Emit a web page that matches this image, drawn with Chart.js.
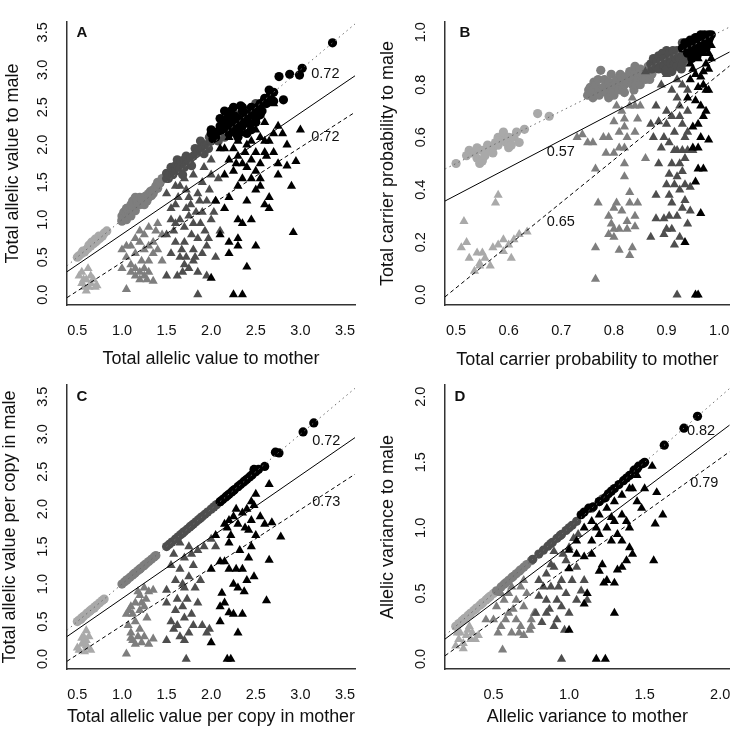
<!DOCTYPE html>
<html>
<head>
<meta charset="utf-8">
<script src="https://cdn.jsdelivr.net/npm/chart.js@4.4.1/dist/chart.umd.min.js"></script>
<style>
  html, body { margin: 0; padding: 0; background: #fff; }
  #wrap { position: relative; width: 735px; height: 735px; overflow: hidden; }
  canvas { position: absolute; }
</style>
</head>
<body>
<div id="wrap">
  <canvas id="chartA" width="367" height="376" style="left:0;top:0"></canvas>
  <canvas id="chartB" width="368" height="376" style="left:367px;top:0"></canvas>
  <canvas id="chartC" width="367" height="368" style="left:0;top:367px"></canvas>
  <canvas id="chartD" width="368" height="368" style="left:367px;top:367px"></canvas>
</div>
<script>
// ---- Panel A: total allelic value ----
var aLightCirc = [[0.5,0.5],[0.52,0.52],[0.55,0.55],[0.56,0.58],[0.58,0.57],[0.6,0.6],[0.62,0.62],[0.63,0.66],[0.65,0.65],[0.66,0.7],[0.68,0.68],[0.7,0.7],[0.7,0.74],[0.72,0.72],[0.74,0.78],[0.75,0.75],[0.78,0.78],[0.8,0.82],[0.83,0.85]];
var aGrayCirc = [[1.0,1.0],[1.0,1.05],[1.0,0.98],[1.02,1.1],[1.02,1.02],[1.05,1.15],[1.05,1.0],[1.05,1.08],[1.07,1.12],[1.08,1.08],[1.1,1.2],[1.1,1.1],[1.1,1.05],[1.12,1.25],[1.12,1.15],[1.15,1.3],[1.15,1.12],[1.17,1.25],[1.18,1.22],[1.2,1.2],[1.2,1.3],[1.22,1.28],[1.23,1.25],[1.25,1.3],[1.25,1.2],[1.27,1.32],[1.28,1.25],[1.3,1.35],[1.3,1.3],[1.32,1.38],[1.33,1.32],[1.35,1.4],[1.35,1.35],[1.37,1.4],[1.38,1.45],[1.4,1.5],[1.4,1.42],[1.42,1.48],[1.43,1.5],[1.45,1.55]];
var aDarkCirc = [[1.5,1.62],[1.5,1.55],[1.52,1.55],[1.53,1.6],[1.55,1.7],[1.57,1.6],[1.58,1.65],[1.6,1.72],[1.6,1.65],[1.62,1.8],[1.63,1.7],[1.65,1.68],[1.66,1.78],[1.68,1.6],[1.7,1.8],[1.7,1.7],[1.72,1.85],[1.73,1.75],[1.75,1.78],[1.77,1.82],[1.78,1.72],[1.8,1.85],[1.82,1.95],[1.83,1.88],[1.85,1.9],[1.87,1.95],[1.88,2.05],[1.9,1.95],[1.92,1.88],[1.93,2.0],[1.95,2.0],[1.97,1.95],[1.98,2.1],[2.0,2.05],[2.02,2.12],[2.05,2.1],[2.08,2.05],[2.1,2.2],[2.15,2.1],[2.2,2.2],[2.3,2.4],[2.35,2.35],[2.4,2.45],[2.45,2.48],[2.5,2.55],[2.55,2.5],[2.6,2.6]];
var aBlackCirc = [[2.0,2.2],[2.0,2.15],[2.02,2.08],[2.05,2.1],[2.08,2.18],[2.1,2.25],[2.1,2.35],[2.12,2.2],[2.15,2.3],[2.15,2.45],[2.18,2.35],[2.18,2.22],[2.2,2.4],[2.2,2.3],[2.2,2.15],[2.22,2.45],[2.25,2.5],[2.25,2.2],[2.25,2.3],[2.27,2.38],[2.28,2.28],[2.28,2.15],[2.3,2.35],[2.3,2.2],[2.3,2.1],[2.32,2.28],[2.33,2.52],[2.35,2.45],[2.35,2.25],[2.35,2.5],[2.37,2.33],[2.38,2.42],[2.4,2.4],[2.4,2.3],[2.4,2.15],[2.42,2.38],[2.43,2.28],[2.45,2.5],[2.45,2.2],[2.47,2.4],[2.5,2.45],[2.5,2.3],[2.5,2.35],[2.52,2.5],[2.55,2.55],[2.55,2.4],[2.57,2.45],[2.6,2.62],[2.62,2.55],[2.65,2.73],[2.66,2.65],[2.7,2.58],[2.7,2.7],[2.76,2.91],[2.81,2.6],[2.88,2.94],[2.99,2.93],[3.02,3.02],[3.36,3.36]];
var aLightTri = [[0.52,0.25],[0.55,0.3],[0.55,0.15],[0.57,0.2],[0.58,0.1],[0.6,0.2],[0.6,0.05],[0.62,0.35],[0.63,0.1],[0.65,0.15],[0.65,0.25],[0.68,0.2],[0.7,0.1],[0.72,0.12]];
var aGrayTri = [[1.0,0.6],[1.0,0.35],[1.05,0.5],[1.05,0.07],[1.05,0.65],[1.1,0.4],[1.1,0.3],[1.1,0.65],[1.15,0.35],[1.15,0.25],[1.15,0.75],[1.15,0.55],[1.2,0.2],[1.2,0.3],[1.2,0.85],[1.2,0.7],[1.22,0.45],[1.25,0.35],[1.25,0.25],[1.25,0.6],[1.25,0.8],[1.28,0.2],[1.3,0.3],[1.3,0.45],[1.3,0.65],[1.3,0.9],[1.35,0.18],[1.35,0.7],[1.35,0.55],[1.38,0.85],[1.4,0.6],[1.4,0.95],[1.45,0.45],[1.45,0.8]];
var aDarkTri = [[1.5,0.25],[1.5,0.8],[1.5,1.35],[1.55,1.0],[1.55,0.55],[1.55,1.15],[1.58,0.85],[1.6,0.7],[1.6,1.2],[1.6,1.45],[1.6,0.95],[1.62,0.25],[1.63,1.3],[1.65,1.0],[1.65,1.45],[1.65,0.5],[1.67,0.6],[1.68,0.3],[1.7,0.7],[1.7,0.4],[1.7,0.9],[1.7,1.55],[1.72,1.15],[1.72,1.4],[1.72,0.5],[1.75,1.3],[1.75,1.05],[1.75,0.35],[1.77,1.2],[1.78,0.8],[1.8,0.6],[1.8,0.45],[1.8,0.95],[1.8,1.6],[1.82,0.5],[1.83,1.1],[1.85,1.35],[1.85,0.75],[1.85,0.3],[1.85,0.0],[1.87,1.25],[1.88,0.95],[1.9,1.1],[1.9,0.55],[1.9,1.5],[1.92,1.7],[1.93,0.85],[1.95,0.65],[1.95,1.25],[1.95,0.25],[1.97,0.75],[1.98,1.4],[2.0,1.8],[2.0,1.6],[2.0,1.0],[2.03,1.1],[2.05,0.5],[2.05,1.25],[2.08,1.55],[2.1,0.85]];
var aBlackTri = [[2.0,0.22],[2.05,1.25],[2.1,0.8],[2.1,1.95],[2.15,1.6],[2.15,1.15],[2.15,1.95],[2.2,0.7],[2.2,0.55],[2.2,1.8],[2.2,1.3],[2.2,2.1],[2.25,0.0],[2.25,1.65],[2.25,1.95],[2.28,1.75],[2.3,0.65],[2.3,0.75],[2.3,1.0],[2.3,1.45],[2.3,1.85],[2.3,2.05],[2.3,2.3],[2.35,0.0],[2.35,0.95],[2.35,1.55],[2.35,1.75],[2.35,2.15],[2.38,1.9],[2.4,0.37],[2.4,1.25],[2.4,2.0],[2.4,2.3],[2.4,1.7],[2.45,1.0],[2.45,1.8],[2.45,1.55],[2.45,2.05],[2.5,0.65],[2.5,1.4],[2.5,1.9],[2.5,2.2],[2.5,1.65],[2.55,1.55],[2.55,1.45],[2.55,1.75],[2.55,2.1],[2.6,1.2],[2.6,1.9],[2.6,2.3],[2.6,2.05],[2.62,1.85],[2.65,1.15],[2.65,1.3],[2.65,2.05],[2.7,2.15],[2.7,1.9],[2.7,2.55],[2.75,1.75],[2.75,1.6],[2.75,2.25],[2.8,2.15],[2.85,2.0],[2.85,1.72],[2.9,1.45],[2.92,0.83],[2.95,1.78],[3.0,2.2]];
var aDotted = [[0.384,0.384],[3.612,3.612]];
var aSolid = [[0.384,0.306],[3.612,2.92]];
var aDashed = [[0.384,-0.04],[3.612,2.434]];

// ---- Panel B: total carrier probability ----
var bLightCirc = [[0.5,0.5],[0.52,0.53],[0.525,0.55],[0.53,0.54],[0.535,0.54],[0.54,0.52],[0.54,0.56],[0.545,0.5],[0.55,0.55],[0.55,0.51],[0.555,0.53],[0.56,0.57],[0.565,0.55],[0.57,0.56],[0.57,0.54],[0.575,0.58],[0.58,0.57],[0.58,0.6],[0.585,0.59],[0.59,0.6],[0.59,0.62],[0.595,0.58],[0.6,0.6],[0.6,0.56],[0.6,0.58],[0.605,0.57],[0.61,0.6],[0.615,0.62],[0.62,0.58],[0.63,0.63],[0.655,0.69],[0.677,0.68]];
var bGrayCirc = [[0.75,0.76],[0.752,0.78],[0.755,0.79],[0.757,0.77],[0.76,0.78],[0.76,0.75],[0.762,0.81],[0.765,0.8],[0.77,0.82],[0.772,0.78],[0.772,0.76],[0.775,0.855],[0.78,0.79],[0.782,0.82],[0.785,0.77],[0.79,0.81],[0.79,0.75],[0.792,0.79],[0.795,0.84],[0.797,0.77],[0.8,0.78],[0.8,0.76],[0.802,0.8],[0.805,0.82],[0.81,0.8],[0.81,0.78],[0.812,0.84],[0.815,0.83],[0.817,0.79],[0.82,0.77],[0.82,0.8],[0.822,0.83],[0.825,0.81],[0.83,0.85],[0.832,0.82],[0.835,0.8],[0.838,0.78],[0.84,0.84],[0.84,0.87],[0.842,0.8],[0.845,0.82],[0.85,0.86],[0.85,0.8],[0.852,0.83],[0.855,0.84],[0.86,0.82],[0.862,0.85],[0.865,0.87],[0.868,0.82],[0.87,0.86],[0.872,0.84],[0.878,0.86],[0.88,0.88]];
var bDarkCirc = [[0.87,0.88],[0.872,0.86],[0.875,0.9],[0.88,0.87],[0.882,0.89],[0.885,0.91],[0.885,0.86],[0.89,0.89],[0.892,0.92],[0.895,0.9],[0.895,0.87],[0.898,0.85],[0.9,0.86],[0.9,0.93],[0.902,0.89],[0.905,0.92],[0.908,0.88],[0.91,0.9],[0.91,0.85],[0.912,0.93],[0.915,0.88],[0.918,0.9],[0.92,0.93],[0.92,0.87],[0.922,0.91],[0.925,0.9],[0.928,0.86],[0.93,0.91],[0.93,0.88],[0.93,0.96],[0.932,0.93],[0.935,0.94],[0.938,0.9],[0.94,0.92],[0.942,0.94],[0.945,0.95],[0.948,0.91],[0.95,0.93],[0.952,0.96],[0.955,0.95],[0.96,0.94]];
var bBlackCirc = [[0.93,0.94],[0.935,0.96],[0.94,0.96],[0.94,0.92],[0.945,0.93],[0.945,0.97],[0.948,0.9],[0.95,0.97],[0.95,0.94],[0.955,0.95],[0.955,0.98],[0.958,0.91],[0.96,0.98],[0.96,0.93],[0.962,0.96],[0.965,0.96],[0.965,0.99],[0.968,0.93],[0.97,0.97],[0.97,0.95],[0.972,0.99],[0.975,0.98],[0.975,0.94],[0.978,0.96],[0.98,0.99],[0.98,0.97],[0.982,0.98],[0.985,0.99]];
var bLightTri = [[0.51,0.18],[0.515,0.28],[0.52,0.2],[0.525,0.14],[0.535,0.09],[0.54,0.16],[0.545,0.11],[0.545,0.12],[0.55,0.16],[0.555,0.14],[0.565,0.11],[0.57,0.18],[0.575,0.35],[0.58,0.38],[0.58,0.19],[0.59,0.21],[0.59,0.165],[0.6,0.19],[0.605,0.14],[0.61,0.21],[0.62,0.23],[0.635,0.24]];
var bGrayTri = [[0.73,0.6],[0.74,0.61],[0.75,0.58],[0.76,0.58],[0.765,0.48],[0.765,0.06],[0.765,0.18],[0.77,0.35],[0.78,0.6],[0.785,0.54],[0.79,0.6],[0.79,0.3],[0.79,0.23],[0.795,0.27],[0.8,0.25],[0.8,0.22],[0.8,0.66],[0.8,0.54],[0.8,0.33],[0.805,0.35],[0.805,0.72],[0.81,0.62],[0.81,0.56],[0.81,0.17],[0.81,0.25],[0.815,0.32],[0.815,0.7],[0.82,0.5],[0.82,0.64],[0.82,0.67],[0.82,0.56],[0.82,0.45],[0.825,0.25],[0.825,0.6],[0.825,0.28],[0.83,0.39],[0.83,0.35],[0.83,0.15],[0.83,0.72],[0.835,0.18],[0.835,0.75],[0.84,0.26],[0.84,0.3],[0.84,0.72],[0.84,0.62],[0.845,0.35],[0.845,0.67],[0.85,0.72],[0.86,0.52]];
var bDarkTri = [[0.86,0.85],[0.87,0.65],[0.87,0.22],[0.875,0.6],[0.88,0.72],[0.88,0.38],[0.88,0.29],[0.885,0.66],[0.885,0.5],[0.89,0.56],[0.89,0.8],[0.895,0.29],[0.895,0.23],[0.895,0.6],[0.9,0.25],[0.9,0.7],[0.9,0.84],[0.9,0.65],[0.9,0.42],[0.905,0.38],[0.905,0.46],[0.905,0.58],[0.905,0.3],[0.91,0.5],[0.91,0.35],[0.91,0.78],[0.91,0.68],[0.91,0.25],[0.915,0.42],[0.915,0.62],[0.915,0.19],[0.915,0.55],[0.92,0.3],[0.92,0.75],[0.92,0.55],[0.92,0.0],[0.92,0.82],[0.92,0.45],[0.925,0.4],[0.925,0.68],[0.925,0.22],[0.925,0.72],[0.925,0.5],[0.93,0.47],[0.93,0.33],[0.93,0.55],[0.93,0.8],[0.93,0.65],[0.935,0.36],[0.935,0.6],[0.935,0.52],[0.935,0.42],[0.94,0.27],[0.94,0.62],[0.94,0.7],[0.94,0.78],[0.94,0.55],[0.945,0.32],[0.945,0.41],[0.95,0.55]];
var bBlackTri = [[0.935,0.2],[0.94,0.75],[0.945,0.82],[0.945,0.88],[0.95,0.64],[0.95,0.86],[0.95,0.56],[0.955,0.43],[0.955,0.0],[0.955,0.92],[0.955,0.74],[0.955,0.84],[0.96,0.0],[0.96,0.48],[0.96,0.56],[0.96,0.79],[0.96,0.9],[0.96,0.65],[0.965,0.31],[0.965,0.72],[0.965,0.83],[0.965,0.95],[0.965,0.6],[0.97,0.48],[0.97,0.68],[0.97,0.85],[0.97,0.92],[0.97,0.8],[0.975,0.78],[0.975,0.88],[0.975,0.95],[0.975,0.7],[0.98,0.59],[0.98,0.92],[0.98,0.86],[0.98,0.78],[0.985,0.95],[0.985,0.9]];
var bDotted = [[0.479,0.479],[1.02,1.02]];
var bSolid = [[0.479,0.357],[1.02,0.925]];
var bDashed = [[0.479,-0.008],[1.02,0.872]];

// ---- Panel C: total allelic value per copy ----
var cLightCirc = [[0.5,0.5],[0.52,0.52],[0.54,0.53],[0.55,0.55],[0.57,0.57],[0.6,0.6],[0.62,0.62],[0.64,0.64],[0.65,0.65],[0.67,0.67],[0.69,0.68],[0.7,0.7],[0.72,0.72],[0.75,0.75],[0.78,0.78],[0.8,0.8]];
var cGrayCirc = [[1.0,1.0],[1.03,1.03],[1.05,1.05],[1.06,1.06],[1.09,1.09],[1.12,1.12],[1.14,1.14],[1.15,1.15],[1.18,1.18],[1.2,1.2],[1.21,1.21],[1.24,1.24],[1.25,1.25],[1.27,1.27],[1.3,1.3],[1.33,1.33],[1.36,1.36],[1.38,1.38]];
var cDarkCirc = [[1.5,1.5],[1.53,1.53],[1.56,1.56],[1.6,1.6],[1.63,1.63],[1.66,1.66],[1.68,1.68],[1.7,1.7],[1.73,1.73],[1.76,1.76],[1.78,1.78],[1.8,1.8],[1.83,1.83],[1.86,1.86],[1.88,1.88],[1.9,1.9],[1.93,1.93],[1.96,1.96],[2.0,2.0],[2.03,2.03],[2.06,2.06],[2.1,2.1],[2.3,2.3],[2.45,2.45]];
var cBlackCirc = [[2.1,2.1],[2.13,2.13],[2.16,2.16],[2.18,2.18],[2.2,2.2],[2.23,2.23],[2.25,2.25],[2.26,2.26],[2.3,2.3],[2.33,2.33],[2.36,2.36],[2.38,2.38],[2.4,2.4],[2.43,2.43],[2.46,2.46],[2.48,2.53],[2.5,2.5],[2.53,2.53],[2.6,2.57],[2.72,2.76],[2.76,2.75],[3.03,3.03],[3.15,3.15]];
var cLightTri = [[0.5,0.15],[0.52,0.12],[0.55,0.2],[0.55,0.28],[0.57,0.3],[0.57,0.22],[0.58,0.1],[0.6,0.38],[0.6,0.25],[0.6,0.18],[0.62,0.15],[0.63,0.3],[0.65,0.12]];
var cGrayTri = [[1.05,0.07],[1.05,0.6],[1.07,0.45],[1.08,0.65],[1.1,0.35],[1.1,0.7],[1.1,0.28],[1.12,0.25],[1.12,0.6],[1.15,0.2],[1.15,0.5],[1.15,0.75],[1.18,0.3],[1.18,0.9],[1.2,0.65],[1.2,0.85],[1.2,0.4],[1.22,0.22],[1.22,0.75],[1.25,0.95],[1.25,0.7],[1.25,0.3],[1.27,0.8],[1.28,0.55],[1.3,0.9],[1.3,0.2],[1.35,0.27],[1.35,0.92]];
var cDarkTri = [[1.5,0.25],[1.5,0.75],[1.5,0.92],[1.55,1.25],[1.55,0.5],[1.58,0.4],[1.58,1.4],[1.6,0.65],[1.6,1.05],[1.62,0.45],[1.62,0.8],[1.65,0.3],[1.65,1.2],[1.65,1.55],[1.68,0.7],[1.68,1.0],[1.7,0.25],[1.7,0.55],[1.7,0.95],[1.7,1.35],[1.72,0.0],[1.73,0.8],[1.75,0.35],[1.75,1.1],[1.75,1.5],[1.78,1.4],[1.78,0.6],[1.8,0.45],[1.8,1.25],[1.82,0.95],[1.85,1.45],[1.85,0.75],[1.88,1.05],[1.9,0.45],[1.92,1.5],[1.95,0.35],[1.98,0.4],[2.0,1.6],[2.05,1.5]];
var cBlackTri = [[2.0,0.22],[2.0,1.2],[2.05,1.65],[2.1,0.5],[2.1,0.7],[2.1,1.3],[2.12,0.88],[2.15,1.3],[2.15,0.75],[2.15,1.8],[2.18,0.0],[2.18,1.75],[2.2,1.2],[2.2,0.62],[2.2,1.85],[2.2,1.55],[2.22,0.0],[2.22,1.65],[2.25,0.6],[2.25,1.0],[2.25,1.9],[2.28,1.2],[2.28,2.0],[2.3,0.95],[2.3,0.35],[2.3,1.8],[2.32,1.45],[2.35,0.6],[2.35,1.2],[2.35,1.95],[2.37,0.9],[2.38,1.75],[2.4,1.05],[2.4,2.0],[2.42,1.35],[2.42,1.72],[2.45,1.5],[2.45,2.1],[2.45,1.85],[2.48,1.1],[2.48,2.05],[2.5,1.65],[2.5,2.2],[2.55,1.9],[2.6,1.8],[2.62,0.78],[2.65,1.32],[2.65,2.33],[2.68,1.82],[2.78,1.63]];
var cDotted = [[0.384,0.384],[3.612,3.612]];
var cSolid = [[0.384,0.3],[3.612,2.954]];
var cDashed = [[0.384,-0.03],[3.612,2.466]];

// ---- Panel D: allelic variance ----
var dLightCirc = [[0.25,0.25],[0.27,0.27],[0.29,0.29],[0.3,0.3],[0.31,0.31],[0.33,0.33],[0.34,0.34],[0.35,0.35],[0.37,0.37],[0.38,0.38],[0.39,0.39],[0.41,0.41],[0.42,0.42],[0.43,0.43],[0.45,0.45],[0.46,0.46],[0.47,0.47],[0.48,0.48],[0.5,0.5]];
var dGrayCirc = [[0.52,0.52],[0.55,0.55],[0.57,0.57],[0.58,0.58],[0.6,0.6],[0.62,0.62],[0.63,0.63],[0.65,0.65],[0.67,0.67],[0.68,0.68],[0.7,0.7],[0.72,0.72],[0.75,0.75]];
var dDarkCirc = [[0.76,0.76],[0.8,0.8],[0.83,0.83],[0.86,0.86],[0.88,0.88],[0.89,0.89],[0.92,0.92],[0.94,0.94],[0.95,0.95],[0.98,0.98],[1.0,1.0],[1.02,1.02],[1.05,1.05],[1.15,1.15],[1.2,1.2],[1.22,1.22]];
var dBlackCirc = [[1.08,1.1],[1.1,1.12],[1.13,1.15],[1.16,1.16],[1.2,1.2],[1.24,1.23],[1.26,1.26],[1.28,1.28],[1.3,1.3],[1.33,1.33],[1.36,1.36],[1.38,1.38],[1.4,1.4],[1.43,1.44],[1.45,1.45],[1.46,1.47],[1.49,1.49],[1.5,1.5],[1.63,1.63],[1.76,1.76],[1.85,1.85]];
var dLightTri = [[0.25,0.1],[0.26,0.2],[0.27,0.15],[0.28,0.2],[0.3,0.12],[0.3,0.08],[0.32,0.18],[0.33,0.22],[0.34,0.25],[0.35,0.15],[0.36,0.2],[0.38,0.15],[0.4,0.18]];
var dGrayTri = [[0.45,0.3],[0.5,0.3],[0.52,0.4],[0.53,0.2],[0.55,0.25],[0.55,0.5],[0.56,0.07],[0.57,0.45],[0.58,0.3],[0.6,0.35],[0.6,0.5],[0.62,0.2],[0.62,0.55],[0.63,0.38],[0.65,0.3],[0.65,0.45],[0.67,0.2],[0.68,0.25],[0.68,0.55],[0.7,0.18],[0.7,0.4],[0.7,0.6],[0.72,0.5],[0.74,0.22],[0.75,0.25],[0.75,0.3],[0.77,0.35]];
var dDarkTri = [[0.78,0.35],[0.8,0.48],[0.8,0.6],[0.82,0.28],[0.83,0.55],[0.85,0.45],[0.85,0.65],[0.85,0.35],[0.87,0.38],[0.88,0.55],[0.88,0.72],[0.9,0.25],[0.9,0.7],[0.9,0.82],[0.92,0.45],[0.92,0.3],[0.93,0.55],[0.95,0.0],[0.95,0.6],[0.95,0.4],[0.96,0.8],[0.97,0.22],[0.98,0.5],[0.98,0.75],[1.0,0.35],[1.0,0.85],[1.02,0.6],[1.03,0.92],[1.05,0.45],[1.05,0.7],[1.06,0.95],[1.08,0.52],[1.1,0.6],[1.12,0.45]];
var dBlackTri = [[1.0,0.22],[1.0,0.69],[1.0,0.83],[1.05,0.8],[1.05,0.9],[1.1,0.78],[1.1,0.42],[1.1,1.0],[1.12,0.5],[1.15,0.8],[1.15,1.05],[1.15,0.9],[1.18,0.0],[1.18,1.0],[1.2,0.67],[1.2,1.1],[1.2,0.95],[1.22,0.72],[1.23,0.58],[1.24,0.0],[1.25,0.6],[1.25,1.15],[1.25,1.0],[1.28,0.9],[1.28,1.08],[1.3,0.35],[1.3,0.58],[1.3,1.2],[1.3,1.05],[1.32,0.68],[1.32,0.95],[1.35,0.7],[1.35,0.9],[1.35,1.25],[1.35,1.1],[1.38,0.75],[1.38,1.05],[1.4,0.85],[1.4,1.3],[1.4,1.0],[1.42,0.8],[1.42,1.3],[1.45,1.2],[1.45,1.4],[1.48,1.15],[1.5,1.3],[1.55,1.47],[1.56,0.75],[1.57,1.03],[1.58,1.27],[1.62,1.1]];
var dDotted = [[0.179,0.179],[2.063,2.063]];
var dSolid = [[0.179,0.152],[2.063,1.784]];
var dDashed = [[0.179,0.025],[2.063,1.581]];

// tick values
var ticksAllelic = [0.5, 1.0, 1.5, 2.0, 2.5, 3.0, 3.5];
var ticksAllelicY = [0.0, 0.5, 1.0, 1.5, 2.0, 2.5, 3.0, 3.5];
var ticksProbX = [0.5, 0.6, 0.7, 0.8, 0.9, 1.0];
var ticksProbY = [0.0, 0.2, 0.4, 0.6, 0.8, 1.0];
var ticksVarX = [0.5, 1.0, 1.5, 2.0];
var ticksVarY = [0.0, 0.5, 1.0, 1.5, 2.0];

var FONT = "'Liberation Sans', Arial, Helvetica, sans-serif";
var colLight = '#a9a9a9', colGray = '#7e7e7e', colDark = '#4e4e4e', colBlack = '#000000';

function pts(arr) {
    return arr.map(function(p) { return { x: p[0], y: p[1] }; });
}

function lineSet(arr, color, dash) {
    return {
        type: 'line', data: pts(arr), showLine: true, borderColor: color, borderWidth: 1,
        borderDash: dash, pointRadius: 0, fill: false, tension: 0
    };
}

function pointSet(arr, color, style) {
    return {
        data: pts(arr), pointStyle: style, backgroundColor: color, borderWidth: 0,
        pointRadius: style === 'circle' ? 4.6 : 5.3, pointHoverRadius: 0
    };
}

// draws rotated y tick labels, the panel letter and the line labels
var panelDecor = {
    id: 'panelDecor',
    afterDraw: function(chart) {
        var o = chart.options.plugins.panelDecor;
        var ctx = chart.ctx, area = chart.chartArea;
        var ys = chart.scales.y, xs = chart.scales.x;
        ctx.save();
        ctx.fillStyle = '#111';
        ctx.font = '14.5px ' + FONT;
        ctx.textAlign = 'center';
        ctx.textBaseline = 'middle';
        ys.ticks.forEach(function(t) {
            var py = ys.getPixelForValue(t.value);
            ctx.save();
            ctx.translate(area.left - 24, py);
            ctx.rotate(-Math.PI / 2);
            ctx.fillText(t.value.toFixed(1), 0, 0);
            ctx.restore();
        });
        o.notes.forEach(function(n) {
            ctx.fillText(n.text, xs.getPixelForValue(n.x), ys.getPixelForValue(n.y));
        });
        ctx.font = 'bold 15px ' + FONT;
        ctx.fillText(o.letter, area.left + o.letterDx, area.top + o.letterDy);
        ctx.restore();
    }
};

function makePanel(id, p) {
    var canvas = document.getElementById(id);
    var W = canvas.width, H = canvas.height;
    new Chart(canvas.getContext('2d'), {
        type: 'scatter',
        data: {
            datasets: [
                lineSet(p.dotted, '#6a6a6a', [1.5, 3.5]),
                lineSet(p.solid, '#000', []),
                lineSet(p.dashed, '#000', [4, 3]),
                pointSet(p.blackCirc, colBlack, 'circle'),
                pointSet(p.blackTri, colBlack, 'triangle'),
                pointSet(p.darkCirc, colDark, 'circle'),
                pointSet(p.darkTri, colDark, 'triangle'),
                pointSet(p.grayCirc, colGray, 'circle'),
                pointSet(p.grayTri, colGray, 'triangle'),
                pointSet(p.lightCirc, colLight, 'circle'),
                pointSet(p.lightTri, colLight, 'triangle')
            ]
        },
        options: {
            responsive: false,
            animation: false,
            events: [],
            layout: { padding: { left: 0, top: p.area.top, right: W - p.area.right, bottom: 0 } },
            plugins: {
                legend: { display: false },
                tooltip: { enabled: false },
                panelDecor: { notes: p.notes, letter: p.letter, letterDx: p.letterDx, letterDy: p.letterDy }
            },
            scales: {
                x: {
                    type: 'linear', min: p.xMin, max: p.xMax,
                    afterBuildTicks: function(s) { s.ticks = p.xTicks.map(function(v) { return { value: v }; }); },
                    afterFit: function(s) { s.height = H - p.area.bottom; s.paddingLeft = 0; s.paddingRight = 0; },
                    grid: { display: false, drawTicks: false },
                    border: { display: true, color: '#333', width: 1.5 },
                    ticks: {
                        color: '#111', padding: 17, maxRotation: 0, autoSkip: false,
                        font: { family: FONT, size: 14.5 },
                        callback: function(v) { return Number(v).toFixed(1); }
                    },
                    title: {
                        display: true, text: p.xTitle, color: '#111',
                        font: { family: FONT, size: 18, lineHeight: 1 },
                        padding: { top: 0, bottom: H - p.xTitleY - 9 }
                    }
                },
                y: {
                    type: 'linear', min: p.yMin, max: p.yMax,
                    afterBuildTicks: function(s) { s.ticks = p.yTicks.map(function(v) { return { value: v }; }); },
                    afterFit: function(s) { s.width = p.area.left; s.paddingTop = 0; s.paddingBottom = 0; },
                    grid: { display: false, drawTicks: false },
                    border: { display: true, color: '#333', width: 1.5 },
                    ticks: { display: false },
                    title: {
                        display: true, text: p.yTitle, color: '#111',
                        font: { family: FONT, size: 18, lineHeight: 1 },
                        padding: { top: p.yTitleX - 9, bottom: 0 }
                    }
                }
            }
        },
        plugins: [panelDecor]
    });
}

makePanel('chartA', {
    area: { left: 67, right: 355, top: 22, bottom: 305 },
    xMin: 0.384, xMax: 3.612, yMin: -0.138, yMax: 3.638,
    xTicks: ticksAllelic, yTicks: ticksAllelicY,
    xTitle: 'Total allelic value to mother', yTitle: 'Total allelic value to male',
    xTitleY: 359, yTitleX: 13.5,
    letter: 'A', letterDx: 15, letterDy: 11,
    notes: [{ text: '0.72', x: 3.28, y: 2.95 }, { text: '0.72', x: 3.28, y: 2.11 }],
    dotted: aDotted, solid: aSolid, dashed: aDashed,
    lightCirc: aLightCirc, grayCirc: aGrayCirc, darkCirc: aDarkCirc, blackCirc: aBlackCirc,
    lightTri: aLightTri, grayTri: aGrayTri, darkTri: aDarkTri, blackTri: aBlackTri
});

makePanel('chartB', {
    area: { left: 78, right: 365, top: 22, bottom: 305 },
    xMin: 0.479, xMax: 1.02, yMin: -0.039, yMax: 1.039,
    xTicks: ticksProbX, yTicks: ticksProbY,
    xTitle: 'Total carrier probability to mother', yTitle: 'Total carrier probability to male',
    xTitleY: 360, yTitleX: 21.5,
    letter: 'B', letterDx: 20, letterDy: 11,
    notes: [{ text: '0.57', x: 0.699, y: 0.544 }, { text: '0.65', x: 0.699, y: 0.278 }],
    dotted: bDotted, solid: bSolid, dashed: bDashed,
    lightCirc: bLightCirc, grayCirc: bGrayCirc, darkCirc: bDarkCirc, blackCirc: bBlackCirc,
    lightTri: bLightTri, grayTri: bGrayTri, darkTri: bDarkTri, blackTri: bBlackTri
});

makePanel('chartC', {
    area: { left: 67, right: 355, top: 18, bottom: 302 },
    xMin: 0.384, xMax: 3.612, yMin: -0.133, yMax: 3.656,
    xTicks: ticksAllelic, yTicks: ticksAllelicY,
    xTitle: 'Total allelic value per copy in mother', yTitle: 'Total allelic value per copy in male',
    xTitleY: 350, yTitleX: 10,
    letter: 'C', letterDx: 15, letterDy: 12,
    notes: [{ text: '0.72', x: 3.29, y: 2.91 }, { text: '0.73', x: 3.29, y: 2.09 }],
    dotted: cDotted, solid: cSolid, dashed: cDashed,
    lightCirc: cLightCirc, grayCirc: cGrayCirc, darkCirc: cDarkCirc, blackCirc: cBlackCirc,
    lightTri: cLightTri, grayTri: cGrayTri, darkTri: cDarkTri, blackTri: cBlackTri
});

makePanel('chartD', {
    area: { left: 78, right: 365, top: 18, bottom: 302 },
    xMin: 0.179, xMax: 2.063, yMin: -0.076, yMax: 2.089,
    xTicks: ticksVarX, yTicks: ticksVarY,
    xTitle: 'Allelic variance to mother', yTitle: 'Allelic variance to male',
    xTitleY: 350, yTitleX: 21.5,
    letter: 'D', letterDx: 15, letterDy: 12,
    notes: [{ text: '0.82', x: 1.873, y: 1.741 }, { text: '0.79', x: 1.895, y: 1.34 }],
    dotted: dDotted, solid: dSolid, dashed: dDashed,
    lightCirc: dLightCirc, grayCirc: dGrayCirc, darkCirc: dDarkCirc, blackCirc: dBlackCirc,
    lightTri: dLightTri, grayTri: dGrayTri, darkTri: dDarkTri, blackTri: dBlackTri
});
</script>
</body>
</html>
